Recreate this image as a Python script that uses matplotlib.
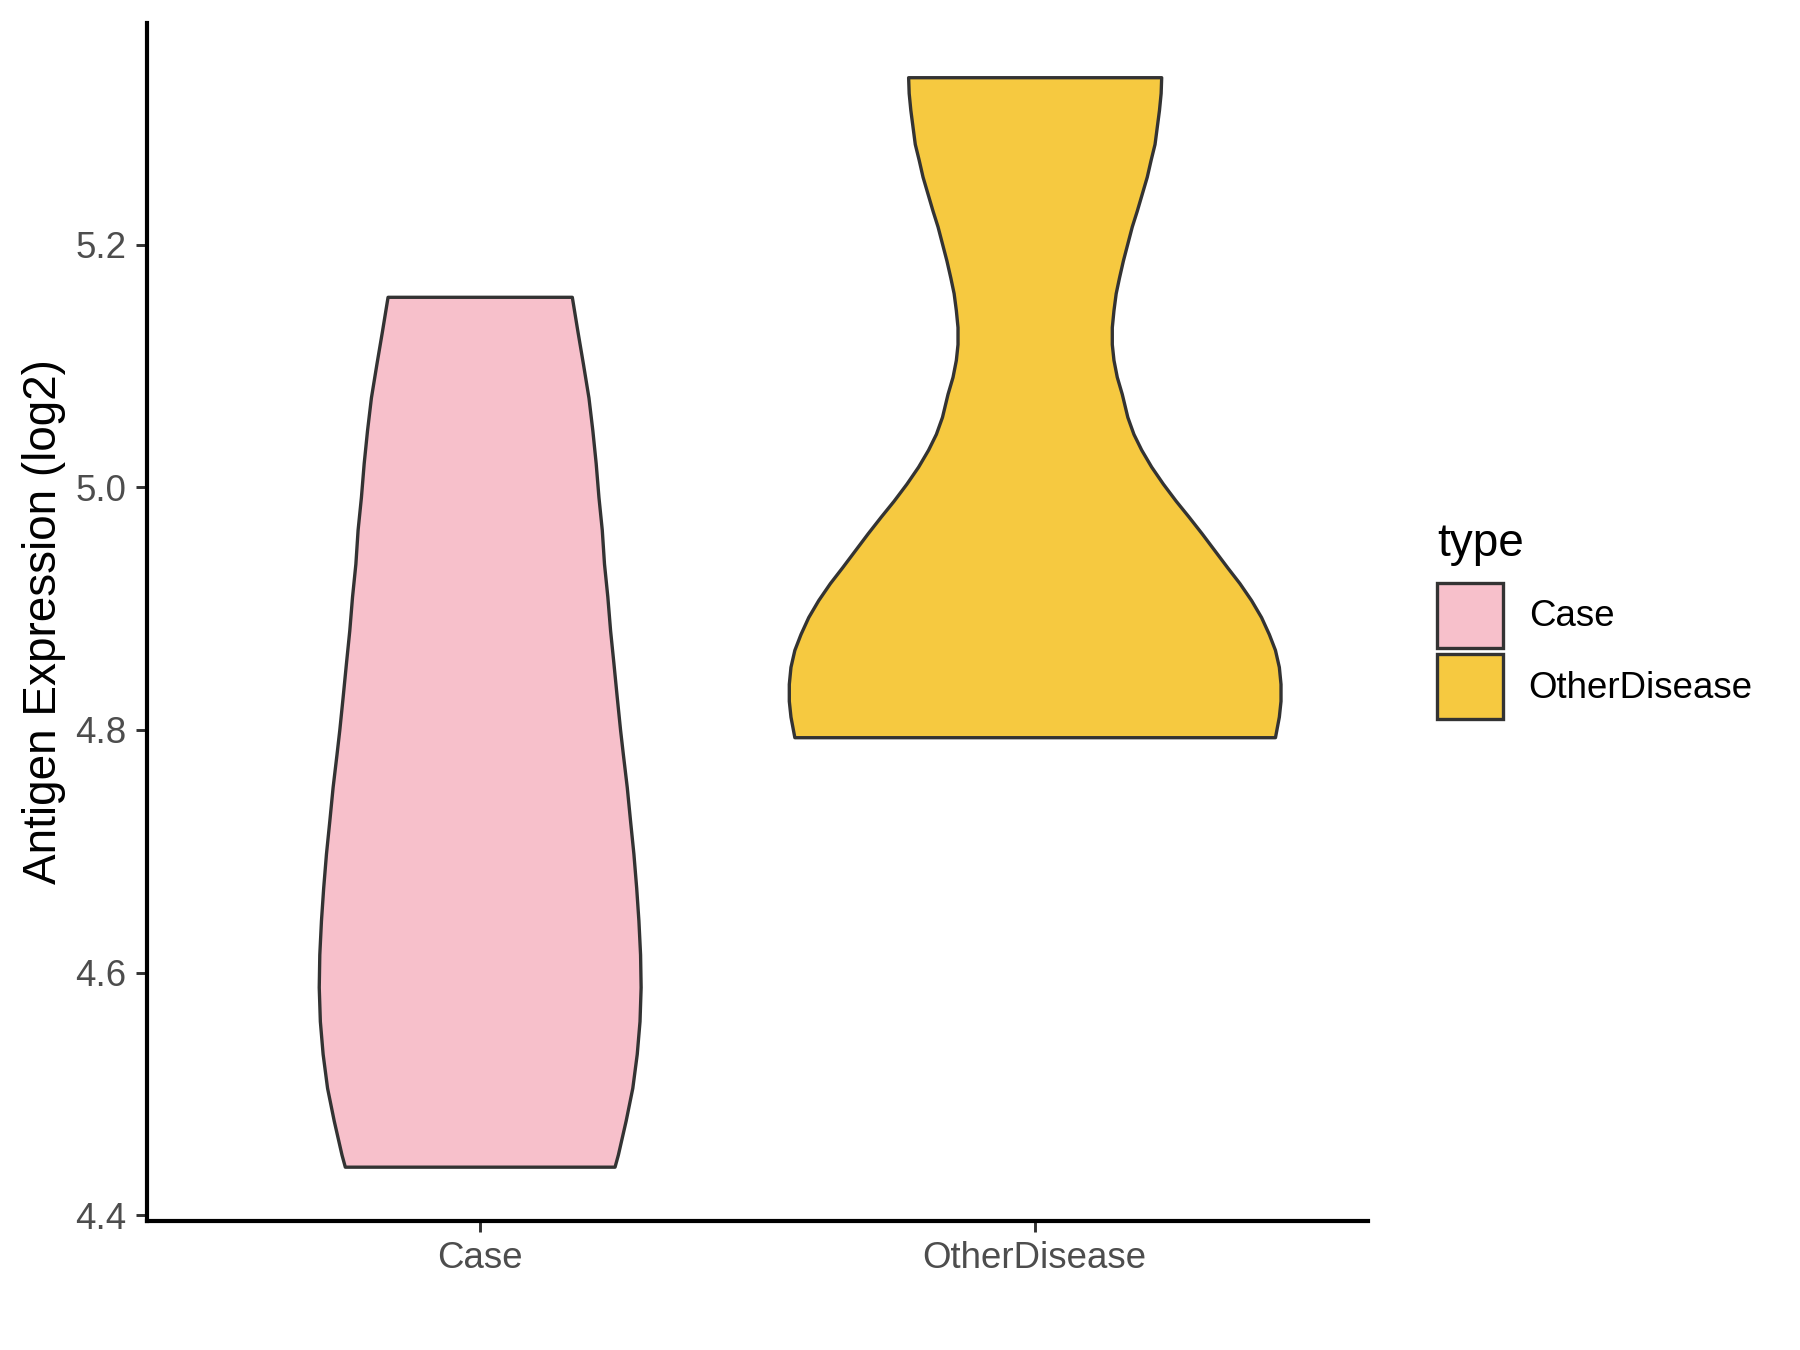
import numpy as np
import matplotlib
matplotlib.use("Agg")
import matplotlib.pyplot as plt
from matplotlib.patches import Patch

# categories and colours
categories = ["Case", "OtherDisease"]
fill_colors = ["#F7C0CB", "#F6C940"]

# violin outlines: value (log2) and half width (x units)
case_values = [5.157, 5.129, 5.102, 5.074, 5.047, 5.020, 4.992, 4.965, 4.937, 4.910,
               4.882, 4.855, 4.827, 4.800, 4.780, 4.753, 4.725, 4.698, 4.670, 4.643,
               4.615, 4.588, 4.560, 4.533, 4.505, 4.478, 4.450, 4.440]
case_halfwidth = [0.166, 0.176, 0.186, 0.196, 0.203, 0.209, 0.214, 0.220, 0.224, 0.230,
                  0.235, 0.241, 0.247, 0.253, 0.258, 0.265, 0.271, 0.277, 0.282, 0.286,
                  0.289, 0.290, 0.288, 0.283, 0.275, 0.263, 0.249, 0.243]

other_values = [5.338, 5.325, 5.311, 5.297, 5.283, 5.270, 5.256, 5.242, 5.228, 5.215,
                5.201, 5.187, 5.173, 5.160, 5.146, 5.132, 5.118, 5.105, 5.091, 5.077,
                5.058, 5.044, 5.031, 5.017, 5.003, 4.989, 4.976, 4.962, 4.948, 4.934,
                4.921, 4.907, 4.893, 4.879, 4.866, 4.852, 4.838, 4.824, 4.811, 4.794]
other_halfwidth = [0.228, 0.227, 0.224, 0.220, 0.216, 0.209, 0.202, 0.193, 0.184, 0.175,
                   0.167, 0.159, 0.152, 0.146, 0.142, 0.139, 0.139, 0.142, 0.148, 0.157,
                   0.167, 0.178, 0.192, 0.210, 0.231, 0.254, 0.277, 0.301, 0.324, 0.347,
                   0.369, 0.390, 0.408, 0.422, 0.433, 0.440, 0.443, 0.443, 0.440, 0.433]

y_ticks = [4.4, 4.6, 4.8, 5.0, 5.2]

plt.rcParams["font.family"] = ["Liberation Sans", "DejaVu Sans"]

fig = plt.figure(figsize=(6, 4.5), dpi=300)
ax = fig.add_axes([0.0815, 0.0958, 0.7598 - 0.0815, 0.9828 - 0.0958])

outline = "#333333"
profiles = [(case_values, case_halfwidth), (other_values, other_halfwidth)]
for i, (vals, hw) in enumerate(profiles):
    pos = i + 1
    vals = np.array(vals)
    hw = np.array(hw)
    ax.fill_betweenx(vals, pos - hw, pos + hw, facecolor=fill_colors[i],
                     edgecolor=outline, linewidth=0.8, joinstyle="round", zorder=2)

ax.set_xlim(0.4, 2.6)
ax.set_ylim(4.3955, 5.3825)
ax.set_xticks([1, 2])
ax.set_xticklabels(categories)
ax.set_yticks(y_ticks)
ax.set_yticklabels([f"{t:.1f}" for t in y_ticks])

for side in ["top", "right"]:
    ax.spines[side].set_visible(False)
for side in ["left", "bottom"]:
    ax.spines[side].set_linewidth(1.0)
    ax.spines[side].set_color("black")
    ax.spines[side].set_capstyle("projecting")

ax.tick_params(axis="both", length=2.75, width=0.7, color="#333333",
               labelsize=8.8, labelcolor="#4D4D4D", pad=2.2)
ax.set_ylabel("Antigen Expression (log2)", fontsize=11, color="black", labelpad=2.2)

handles = [Patch(facecolor=c, edgecolor=outline, linewidth=0.8) for c in fill_colors]
leg = fig.legend(handles, categories, loc="upper left",
                 bbox_to_anchor=(1437 / 1800, 1 - 522 / 1350),
                 frameon=False, fontsize=8.8, title="type", title_fontsize=11,
                 handlelength=1.8, handleheight=2.35, labelspacing=0.17,
                 handletextpad=0.7, borderpad=0, borderaxespad=0)
leg._legend_box.align = "left"
leg._legend_box.sep = 4.0

fig.savefig("out.png", dpi=300, facecolor="white")
